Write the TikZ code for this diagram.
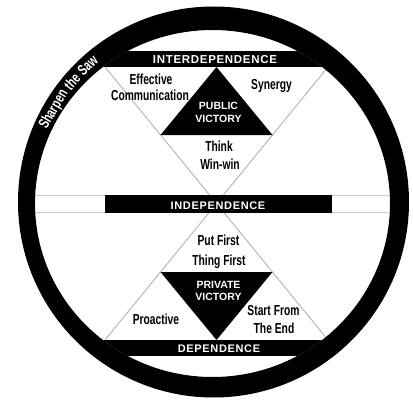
\documentclass[tikz,border=0pt]{standalone}
\usepackage{fontspec}
\setmainfont{Liberation Sans}
\newfontfamily\condf[FakeStretch=0.71]{Liberation Sans}
\newfontfamily\capf[LetterSpace=6]{Liberation Sans}
\newcommand\sawf{\condf\bfseries\fontsize{15}{15}\selectfont}
\tikzset{
  cond/.style={font={\condf\bfseries\fontsize{14.5}{16}\selectfont}, anchor=base, inner sep=0pt, text=black},
  caps/.style={font={\capf\bfseries\fontsize{11}{12}\selectfont}, anchor=base, inner sep=0pt, text=white},
  vict/.style={font={\bfseries\fontsize{10.5}{12}\selectfont}, anchor=base, inner sep=0pt, text=white},
  saw/.style={font=\sawf, anchor=base, inner sep=0pt, text=white},
  xline/.style={draw=gray!65, line width=0.8pt},
  band/.style={draw=gray!40, line width=1pt},
}
\begin{document}
\begin{tikzpicture}[x=1pt,y=1pt]
\useasboundingbox (0,0) rectangle (413,400);
\fill[white] (0,0) rectangle (413,400);
\coordinate (c) at (213.5,198);
\coordinate (ci) at (212.5,196.5);
% interior
\begin{scope}
  \clip (ci) ellipse [x radius=177.5, y radius=173.5];
  \coordinate (tl) at (105,333);
  \coordinate (tr) at (328,333);
  \coordinate (bl) at (105,60);
  \coordinate (br) at (328,60);
  \draw[xline] (tl) -- (br);
  \draw[xline] (tr) -- (bl);
  % independence band
  \draw[band] (0,187.5) rectangle (420,205);
  \fill (105,187.5) rectangle (332,205);
  % top and bottom bars
  \fill (0,333) rectangle (420,348.5);
  \fill (0,44) rectangle (420,60);
\end{scope}
% victory triangles
\coordinate (pa) at (216.5,333);
\coordinate (pl) at (160.5,265);
\coordinate (pr) at (272.5,265);
\fill (pa) -- (pl) -- (pr) -- cycle;
\coordinate (qa) at (216.5,60);
\coordinate (ql) at (160.5,128);
\coordinate (qr) at (272.5,128);
\fill (qa) -- (ql) -- (qr) -- cycle;
% ring
\fill[even odd rule] (c) circle [radius=195.5] (ci) ellipse [x radius=177.5, y radius=173.5];
% ring text, word by word along the ring
\node[saw, rotate=59.9] (saw1) at ([shift={(c)}]149.9:180.5) {Sharpen};
\node[saw, rotate=49.6] (saw2) at ([shift={(c)}]139.6:180.5) {the};
\node[saw, rotate=42.7] (saw3) at ([shift={(c)}]132.7:180.5) {Saw};
% bar labels
\node[caps, font={\capf\bfseries\fontsize{11.5}{12}\selectfont}] (inter) at (215,336.5) {INTERDEPENDENCE};
\node[caps] (indep) at (218,191) {INDEPENDENCE};
\node[caps] (dep) at (219,48) {DEPENDENCE};
% victory labels
\node[vict] (pub1) at (218.5,290.7) {PUBLIC};
\node[vict] (pub2) at (218.5,277.3) {VICTORY};
\node[vict] (pri1) at (218.5,112) {PRIVATE};
\node[vict] (pri2) at (218.5,100) {VICTORY};
% habit labels
\node[cond] (eff1) at (151,316) {Effective};
\node[cond] (eff2) at (150,299.3) {Communication};
\node[cond] (syn) at (271.5,310) {Synergy};
\node[cond] (think1) at (219,248.3) {Think};
\node[cond] (think2) at (220,230) {Win-win};
\node[cond] (put1) at (218.5,154.3) {Put First};
\node[cond] (put2) at (219,135) {Thing First};
\node[cond] (pro) at (156,76) {Proactive};
\node[cond] (start1) at (273.5,85) {Start From};
\node[cond] (start2) at (274,67) {The End};
\end{tikzpicture}
\end{document}
